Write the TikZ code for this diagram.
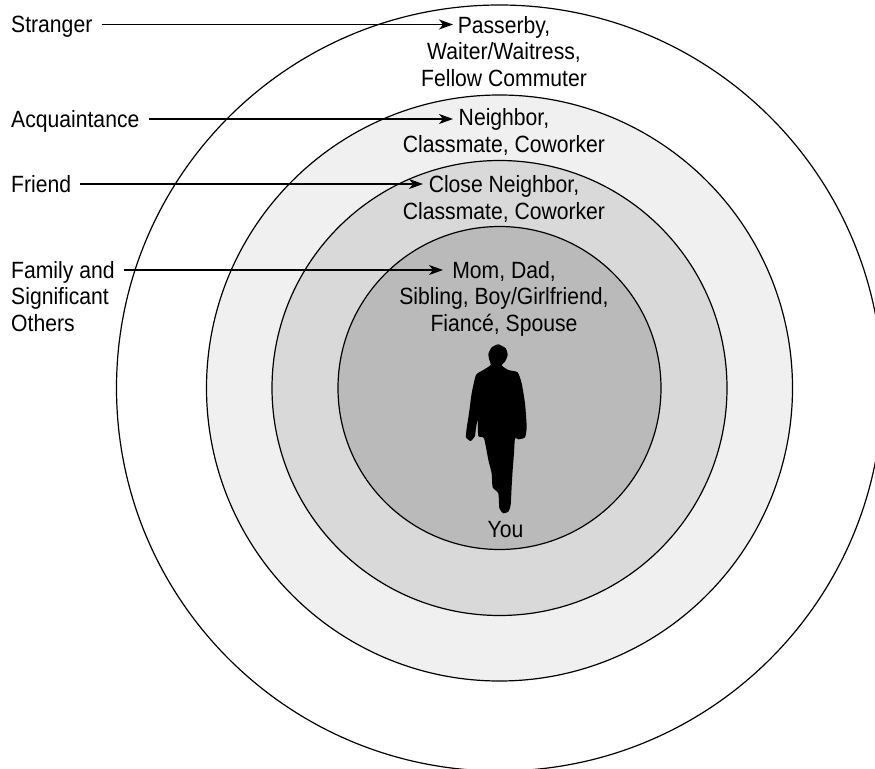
\documentclass[tikz,border=0pt]{standalone}
\usepackage{fontspec}
\setmainfont[FakeStretch=0.9]{Liberation Sans}
\usetikzlibrary{arrows.meta}
\tikzset{
  ring/.style={draw=black,line width=1.2pt},
  lab/.style={font=\fontsize{23.5}{26.5}\selectfont,inner sep=0pt,align=left,anchor=base west},
  blk/.style={font=\fontsize{23.5}{26.5}\selectfont,inner sep=0pt,align=center,anchor=base},
  conn/.style={line width=1.1pt,-{Stealth[length=14pt,width=10pt,inset=4pt]},shorten <=9pt},
}
\begin{document}
\begin{tikzpicture}[x=1pt,y=-1pt]
\useasboundingbox (0,0) rectangle (875,768);
\begin{scope}
\clip (0,0) rectangle (875,768);
\path[ring,fill=white] (499.5,388) circle[radius=383];
\path[ring,fill=black!6] (499.5,388) circle[radius=293];
\path[ring,fill=black!15] (499.5,388) circle[radius=227.5];
\path[ring,fill=black!27] (499.5,388) circle[radius=161.5];
\end{scope}
% silhouette
\begin{scope}[shift={(440,330)},x=0.3333pt,y=-0.3333pt]
\fill[black] plot[smooth cycle,tension=0.35] coordinates {
(175,43)(197,55)(203,75)(195,95)(185,106)(205,120)(233,127)(245,160)(255,220)(260,290)(255,322)(235,328)(225,325)(222,370)(218,420)(215,470)(212,525)(205,545)(190,550)(178,535)(175,490)(158,472)(155,430)(145,390)(132,325)(115,318)(113,270)(107,300)(105,318)(92,333)(78,322)(80,295)(87,250)(95,190)(108,135)(130,120)(152,105)(148,90)(145,72)(155,52)};
\end{scope}
% left labels
\node[lab] (stranger) at (11,33) {Stranger};
\node[lab] (acq) at (11,127) {Acquaintance};
\node[lab] (friend) at (11,192) {Friend};
\node[lab] (family) at (11,331) {Family and\\Significant\\Others};
% centre text
\node[blk] (b1) at (504,86) {Passerby,\\Waiter/Waitress,\\Fellow Commuter};
\node[blk] (b2) at (504,152) {Neighbor,\\Classmate, Coworker};
\node[blk] (b3) at (504,219) {Close Neighbor,\\Classmate, Coworker};
\node[blk] (b4) at (504,331) {Mom, Dad,\\Sibling, Boy/Girlfriend,\\Fiancé, Spouse};
\node[blk] (you) at (505.5,537) {You};
% connector ends
\coordinate (t1) at (453,24.5);
\coordinate (t2) at (453,119);
\coordinate (t3) at (423,184);
\coordinate (t4) at (443,270);
\draw[conn] (stranger.east |- t1) -- (t1);
\draw[conn] (acq.east |- t2) -- (t2);
\draw[conn] (friend.east |- t3) -- (t3);
\draw[conn] (family.east |- t4) -- (t4);
\end{tikzpicture}
\end{document}
